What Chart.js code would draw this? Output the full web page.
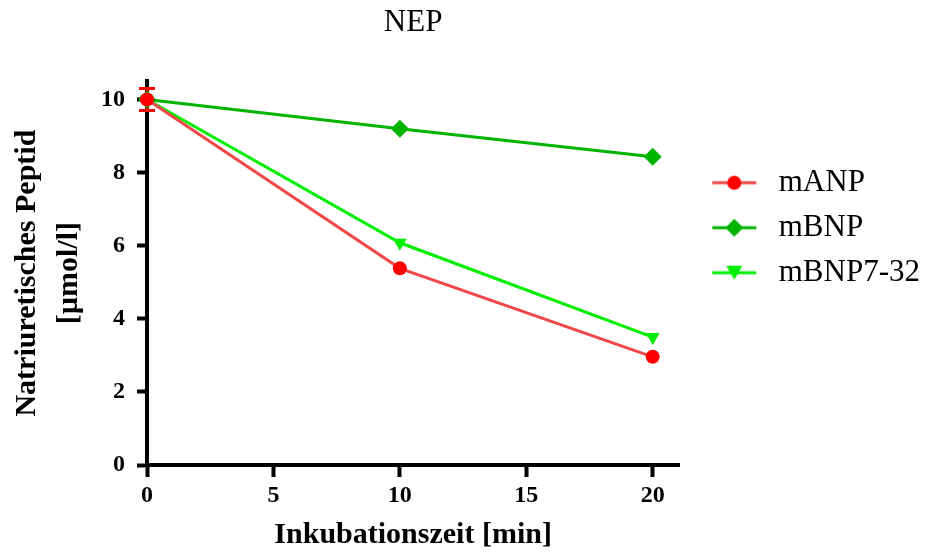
<!DOCTYPE html>
<html>
<head>
<meta charset="utf-8">
<script src="https://cdn.jsdelivr.net/npm/chart.js@4.4.0/dist/chart.umd.min.js"></script>
<style>
  html, body { margin: 0; padding: 0; background: #fff; }
  #wrap { width: 930px; height: 557px; }
</style>
</head>
<body>
<div id="wrap"><canvas id="myChart" width="930" height="557"></canvas></div>
<script>
const times = [0, 10, 20];
const mANP = [10, 5.38, 2.96];
const mANPErr = [0.3, 0, 0];
const mBNP = [10, 9.2, 8.43];
const mBNP732 = [10, 6.08, 3.5];
const seriesNames = ["mANP", "mBNP", "mBNP7-32"];

const serif = "'Liberation Serif', 'Times New Roman', serif";

function pts(values) {
  return values.map((v, i) => ({ x: times[i], y: v }));
}

// legend symbol: short line with the marker on it (blank margin on the left)
function legendIcon(lineColor, markColor, style) {
  const c = document.createElement("canvas");
  c.width = 70;
  c.height = 22;
  const g = c.getContext("2d");
  g.translate(19, 0);
  g.strokeStyle = lineColor;
  g.lineWidth = 3;
  g.beginPath();
  g.moveTo(0, 11);
  g.lineTo(44, 11);
  g.stroke();
  g.fillStyle = markColor;
  g.beginPath();
  if (style === "circle") {
    g.arc(22, 11, 7, 0, Math.PI * 2);
  } else if (style === "diamond") {
    g.moveTo(22, 2); g.lineTo(31, 11); g.lineTo(22, 20); g.lineTo(13, 11);
  } else {
    g.moveTo(14, 4); g.lineTo(30, 4); g.lineTo(22, 18);
  }
  g.closePath();
  g.fill();
  return c;
}

const icons = [
  legendIcon("#f04848", "#ff0000", "circle"),
  legendIcon("#00b400", "#00b400", "diamond"),
  legendIcon("#00ee00", "#00ee00", "triangle"),
];

const errorBars = {
  id: "errorBars",
  beforeDatasetsDraw(chart) {
    const { ctx, scales } = chart;
    ctx.save();
    ctx.strokeStyle = "#ff0000";
    ctx.lineWidth = 3;
    mANP.forEach((v, i) => {
      const e = mANPErr[i];
      if (!e) return;
      const x = scales.x.getPixelForValue(times[i]);
      const y1 = scales.y.getPixelForValue(v + e);
      const y2 = scales.y.getPixelForValue(v - e);
      ctx.beginPath();
      ctx.moveTo(x, y1); ctx.lineTo(x, y2);
      ctx.moveTo(x - 8, y1); ctx.lineTo(x + 8, y1);
      ctx.moveTo(x - 8, y2); ctx.lineTo(x + 8, y2);
      ctx.stroke();
    });
    ctx.restore();
  }
};

const data = {
  datasets: [
    {
      label: seriesNames[0],
      data: pts(mANP),
      borderColor: "#f04848",
      backgroundColor: "#ff0000",
      pointStyle: "circle",
      pointRadius: 7,
      borderWidth: 3,
      pointBorderWidth: 0,
    },
    {
      label: seriesNames[1],
      data: pts(mBNP),
      borderColor: "#00b400",
      backgroundColor: "#00b400",
      pointStyle: "rectRot",
      pointRadius: 9,
      borderWidth: 3,
      pointBorderWidth: 0,
    },
    {
      label: seriesNames[2],
      data: pts(mBNP732),
      borderColor: "#00ee00",
      backgroundColor: "#00ee00",
      pointStyle: "triangle",
      pointRotation: 180,
      pointRadius: 8,
      borderWidth: 3,
      pointBorderWidth: 0,
    },
  ],
};

const config = {
  type: "line",
  data: data,
  plugins: [errorBars],
  options: {
    responsive: false,
    animation: false,
    clip: false,
    layout: { padding: { top: 2, right: 0, bottom: 0, left: 0 } },
    plugins: {
      title: {
        display: true,
        fullSize: false,
        text: "NEP",
        color: "#000",
        font: { family: serif, size: 31, weight: "normal" },
        padding: { top: 2, bottom: 40 }
      },
      legend: {
        position: "right",
        align: "start",
        fullSize: false,
        maxWidth: 270,
        title: {
          display: true,
          text: " ",
          font: { size: 10 },
          padding: { top: 60, bottom: 0 }
        },
        labels: {
          usePointStyle: true,
          pointStyleWidth: 70,
          color: "#000",
          font: { family: serif, size: 31 },
          padding: 14,
          generateLabels: (chart) => chart.data.datasets.map((ds, i) => ({
            text: ds.label,
            pointStyle: icons[i],
            fillStyle: ds.backgroundColor,
            strokeStyle: ds.borderColor,
            lineWidth: 0,
            hidden: false,
            datasetIndex: i,
            fontColor: "#000",
          })),
        },
      },
      tooltip: { enabled: false },
    },
    scales: {
      x: {
        type: "linear",
        min: 0,
        max: 21.05,
        afterFit: (s) => { s.height = 92; },
        ticks: {
          stepSize: 5,
          includeBounds: false,
          color: "#000",
          padding: 4,
          font: { family: serif, size: 24, weight: "bold" },
        },
        grid: { drawOnChartArea: false, drawTicks: true, tickLength: 12, tickWidth: 4, tickColor: "#000" },
        border: { display: true, color: "#000", width: 4 },
        title: {
          display: true,
          text: "Inkubationszeit [min]",
          color: "#000",
          font: { family: serif, size: 30, weight: "bold" },
          padding: { top: 2 }
        }
      },
      y: {
        min: 0,
        max: 10.5,
        afterFit: (s) => { s.width = 147; },
        ticks: {
          stepSize: 2,
          includeBounds: false,
          color: "#000",
          padding: 12,
          font: { family: serif, size: 24, weight: "bold" },
        },
        grid: { drawOnChartArea: false, drawTicks: true, tickLength: 10, tickWidth: 4, tickColor: "#000" },
        border: { display: true, color: "#000", width: 4 },
        title: {
          display: true,
          text: ["Natriuretisches Peptid", "[µmol/l]"],
          color: "#000",
          font: { family: serif, size: 30, weight: "bold", lineHeight: 1.4 },
          padding: { top: 6, bottom: 0 }
        }
      }
    },
  },
};

const myChart = new Chart(document.getElementById("myChart"), config);
</script>
</body>
</html>
